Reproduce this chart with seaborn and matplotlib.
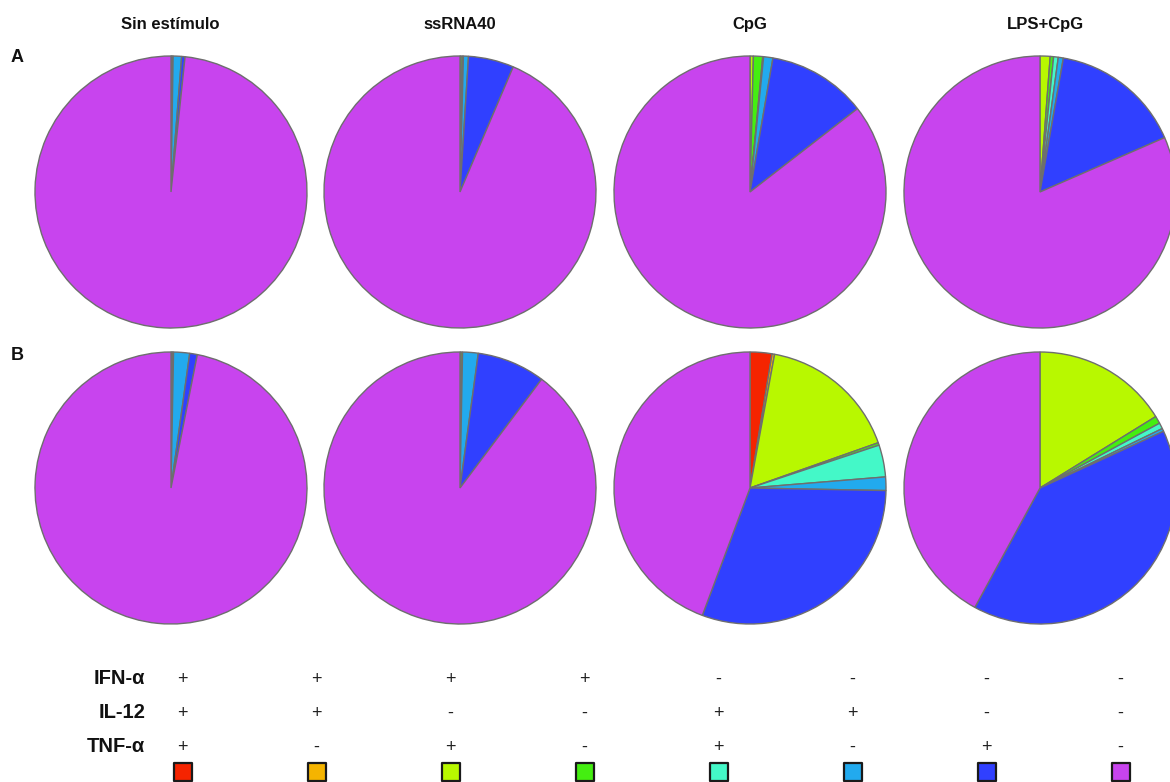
import matplotlib
matplotlib.use("Agg")
import matplotlib.pyplot as plt
import seaborn as sns

# Stimulation conditions (columns) and panels (rows)
stimuli = ["Sin estímulo", "ssRNA40", "CpG", "LPS+CpG"]
panels = ["A", "B"]

# Cytokine marker names for the combination table
markers = ["IFN-α", "IL-12", "TNF-α"]
ifn = ["+", "+", "+", "+", "-", "-", "-", "-"]
il12 = ["+", "+", "-", "-", "+", "+", "-", "-"]
tnf = ["+", "-", "+", "-", "+", "-", "+", "-"]

# Colour for each cytokine combination (same order as the table columns)
combo_colors = ["#F52400", "#F5B400", "#B8F800", "#44EE11",
                "#44F8C8", "#22AAEE", "#3040FF", "#C844EE"]

# Percent of cells in each combination, panel A
a_sin = [0, 0, 0.05, 0.1, 0.1, 1.0, 0.4, 98.35]
a_ssrna = [0, 0, 0.1, 0.2, 0.1, 0.6, 5.4, 93.6]
a_cpg = [0, 0, 0.4, 1.1, 0.1, 1.1, 11.8, 85.5]
a_lps = [0, 0, 1.2, 0.4, 0.55, 0.6, 15.7, 81.55]

# Percent of cells in each combination, panel B
b_sin = [0, 0, 0.1, 0.1, 0.1, 1.9, 0.9, 96.8]
b_ssrna = [0, 0, 0.1, 0.2, 0, 1.85, 8.1, 89.75]
b_cpg = [2.6, 0.3, 16.7, 0.3, 3.8, 1.6, 30.4, 44.3]
b_lps = [0, 0, 16.2, 0.9, 0.7, 0.35, 39.8, 42.05]

rows = [[a_sin, a_ssrna, a_cpg, a_lps], [b_sin, b_ssrna, b_cpg, b_lps]]

sns.set_theme(style="white")
plt.rcParams["font.family"] = ["Liberation Sans", "DejaVu Sans"]

W, H = 1170, 782
fig = plt.figure(figsize=(W / 100, H / 100), dpi=100)


def fx(px):
    return px / W


def fy(py):
    return 1 - py / H


# pie layout in pixels
col_cx = [171, 460, 750, 1040]
row_cy = [192, 488]
radius = 136
pad = 1.02

for r, row in enumerate(rows):
    for c, vals in enumerate(row):
        half = radius * pad
        ax = fig.add_axes([fx(col_cx[c] - half), fy(row_cy[r] + half),
                           2 * half / W, 2 * half / H])
        ax.pie(vals, colors=combo_colors, startangle=90, counterclock=False,
               wedgeprops=dict(edgecolor="#6e6e6e", linewidth=1.0))
        ax.set_xlim(-pad, pad)
        ax.set_ylim(-pad, pad)
        ax.set_aspect("equal")
        ax.axis("off")

# column titles and panel letters
title_x = [170, 460, 750, 1045]
for c, name in enumerate(stimuli):
    fig.text(fx(title_x[c]), fy(29), name, ha="center", va="baseline",
             fontsize=12, fontweight="bold", color="#111111")
for r, lab in enumerate(panels):
    fig.text(fx(11), fy([62, 360][r]), lab, ha="left", va="baseline",
             fontsize=13, fontweight="bold", color="#111111")

# combination table
tab_x = [182 + 134 * i for i in range(8)]
tab_y = [679, 713, 747]
for m, signs, y in zip(markers, [ifn, il12, tnf], tab_y):
    fig.text(fx(145), fy(y), m, ha="right", va="center",
             fontsize=14.5, fontweight="bold", color="#111111")
    for x, s in zip(tab_x, signs):
        fig.text(fx(x), fy(y), s, ha="center", va="center",
                 fontsize=13, color="#222222")

# colour key squares
kax = fig.add_axes([0, 0, 1, 1], facecolor="none")
kax.set_xlim(0, W)
kax.set_ylim(H, 0)
kax.axis("off")
kax.scatter([x + 1 for x in tab_x], [772] * len(tab_x), marker="s", s=150,
            c=combo_colors, edgecolors="#1a1a1a", linewidths=1.6)

fig.savefig("out.png", dpi=100)
